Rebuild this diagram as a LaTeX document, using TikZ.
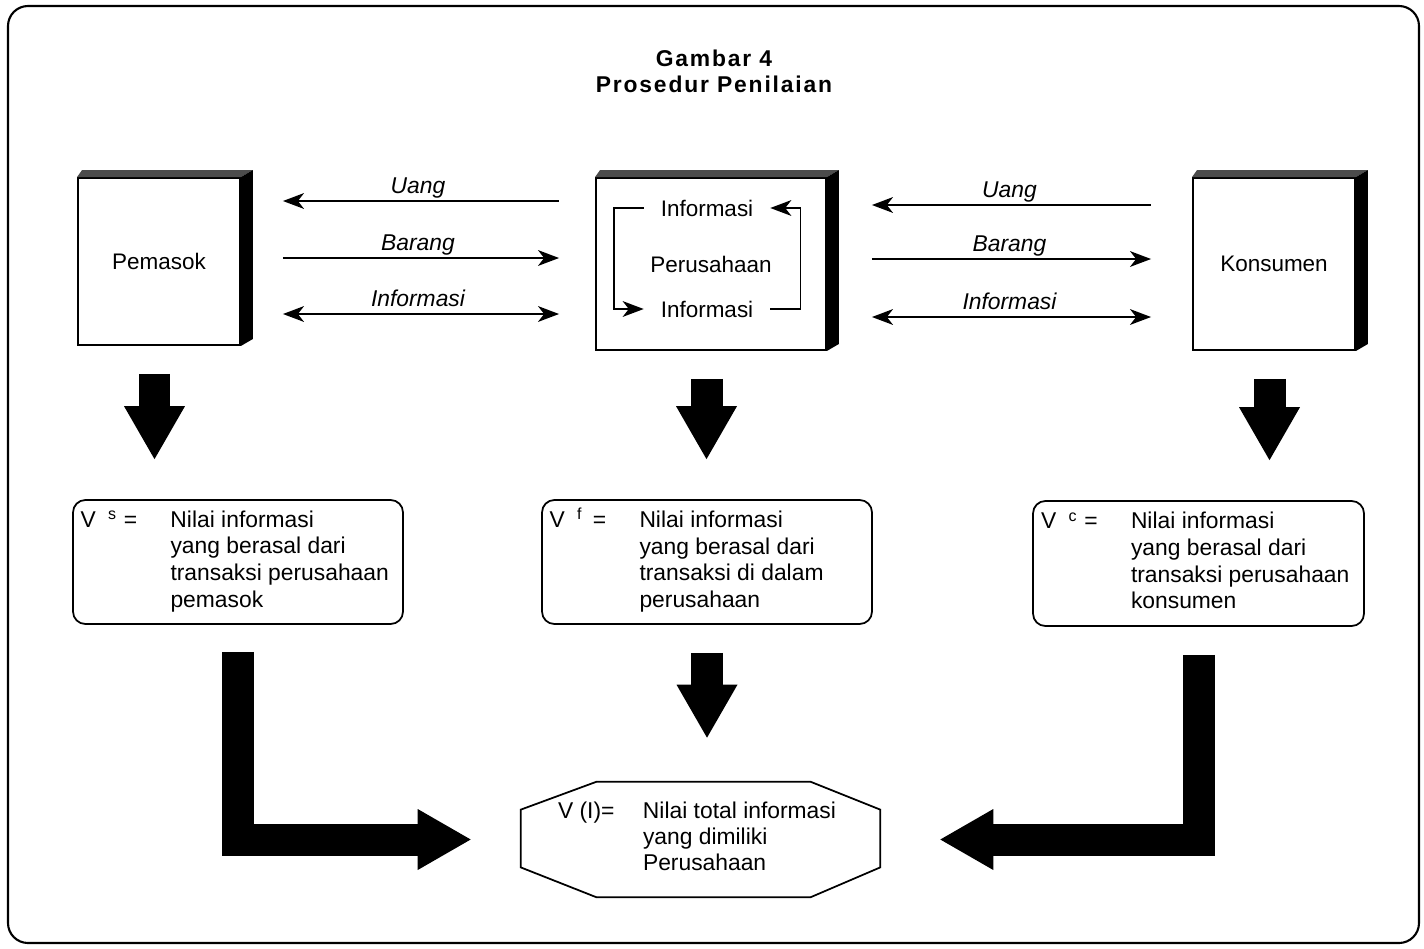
\documentclass[tikz,border=0pt]{standalone}
\usepackage{fontspec}
\setmainfont{Liberation Sans}
\newfontfamily\titlefont[LetterSpace=8]{Liberation Sans}
\usetikzlibrary{arrows.meta}

\begin{document}
\begin{tikzpicture}[x=0.02cm, y=-0.02cm, >={Stealth[length=12pt,width=9pt,inset=3.5pt]},
    box/.style={draw, line width=1.1pt, fill=white, inner sep=0pt, font=\fontsize{12.8}{15}\selectfont},
    vbox/.style={draw, line width=1pt, rounded corners=7pt, minimum width=6.6cm, minimum height=2.48cm, font=\fontsize{13}{15.2}\selectfont},
    inf/.style={inner xsep=9.5pt, inner ysep=0pt, font=\fontsize{12.8}{15}\selectfont},
    flow/.style={line width=0.9pt},
    lbl/.style={midway, anchor=base, yshift=4pt, font=\fontsize{13}{15}\selectfont\itshape},
    fat/.style={line width=0.64cm, line join=miter, -{Triangle[length=1.06cm,width=1.22cm,line width=0pt]}}]
    \useasboundingbox (0,0) rectangle (1424,948);
    \draw[line width=1.2pt, rounded corners=0.4cm] (8,6) rectangle (1419,943);

    \node[font=\titlefont\bfseries\fontsize{13}{14.8}\selectfont, align=center] (ttl) at (714,71) {Gambar 4\\Prosedur Penilaian};

    % the three parties
    \node[box, minimum width=3.24cm, minimum height=3.34cm] (pem) at (159,261.5) {Pemasok};
    \node[box, minimum width=4.6cm, minimum height=3.44cm] (per) at (711,264) {Perusahaan};
    \node[box, minimum width=3.24cm, minimum height=3.44cm] (kon) at (1274,264) {Konsumen};
    \foreach \n in {pem,per,kon} {
      \fill[black!70] (\n.north west) -- ++(5,-7) -- ([shift={(12,-7)}]\n.north east) -- (\n.north east) -- cycle;
      \fill[black] (\n.north east) -- ++(12,-7) -- ([shift={(12,-7)}]\n.south east) -- (\n.south east) -- cycle;
    }

    \node[inf] (infa) at (707,208) {Informasi};
    \node[inf] (infb) at (707,309) {Informasi};
    \draw[flow, ->] (infa.west) -- ++(-30,0) |- (infb.west);
    \draw[flow, ->] (infb.east) -- ++(30,0) |- (infa.east);

    \draw[flow, <-, shorten <=0.84cm, shorten >=0.72cm] (pem.east |- 0,201) -- (per.west |- 0,201) node[lbl] {Uang};
    \draw[flow, ->, shorten <=0.84cm, shorten >=0.72cm] (pem.east |- 0,258) -- (per.west |- 0,258) node[lbl] {Barang};
    \draw[flow, <->, shorten <=0.84cm, shorten >=0.72cm] (pem.east |- 0,314) -- (per.west |- 0,314) node[lbl] {Informasi};

    \draw[flow, <-, shorten <=0.9cm, shorten >=0.82cm] (per.east |- 0,205) -- (kon.west |- 0,205) node[lbl] {Uang};
    \draw[flow, ->, shorten <=0.9cm, shorten >=0.82cm] (per.east |- 0,259) -- (kon.west |- 0,259) node[lbl] {Barang};
    \draw[flow, <->, shorten <=0.9cm, shorten >=0.82cm] (per.east |- 0,317) -- (kon.west |- 0,317) node[lbl] {Informasi};

    % values
    \node[vbox] (vs) at (238,562) {\begin{tabular}{@{}p{1.8cm}@{}p{4.5cm}@{}}
      V\hspace{7pt}\textsuperscript{s}\hspace{4pt}= & Nilai informasi\\
      & yang berasal dari\\
      & transaksi perusahaan\\
      & pemasok
    \end{tabular}};
    \node[vbox] (vf) at (707,562) {\begin{tabular}{@{}p{1.8cm}@{}p{4.5cm}@{}}
      V\hspace{7pt}\textsuperscript{f}\hspace{6pt}= & Nilai informasi\\
      & yang berasal dari\\
      & transaksi di dalam\\
      & perusahaan
    \end{tabular}};
    \node[vbox, minimum width=6.62cm, minimum height=2.5cm] (vc) at (1198.5,563.5) {\begin{tabular}{@{}p{1.8cm}@{}p{4.5cm}@{}}
      V\hspace{7pt}\textsuperscript{c}\hspace{4pt}= & Nilai informasi\\
      & yang berasal dari\\
      & transaksi perusahaan\\
      & konsumen
    \end{tabular}};

    \node[minimum width=7.18cm, minimum height=2.3cm, inner sep=0pt, font=\fontsize{13}{14.8}\selectfont] (tot) at (700.5,839.5) {\begin{tabular}{@{}p{1.7cm}@{}p{4cm}@{}}
      V (I)= & Nilai total informasi\\
      & yang dimiliki\\
      & Perusahaan
    \end{tabular}};
    \draw[line width=1pt] ([xshift=1.52cm]tot.north west) -- ([xshift=-1.4cm]tot.north east) -- ([yshift=-0.56cm]tot.north east)
      -- ([yshift=0.6cm]tot.south east) -- ([xshift=-1.4cm]tot.south east) -- ([xshift=1.52cm]tot.south west)
      -- ([yshift=0.6cm]tot.south west) -- ([yshift=-0.56cm]tot.north west) -- cycle;

    % big arrows
    \foreach \a/\b in {pem/vs, per/vf, kon/vc}
      \draw[fat, transform canvas={xshift=-0.09cm}, shorten <=0.56cm, shorten >=0.8cm] (\a.south) -- (\a.south |- \b.north);
    \draw[fat, shorten <=0.56cm, shorten >=0.88cm] (vf.south) -- (vf.south |- tot.north);
    \draw[fat, shorten <=0.54cm, shorten >=1.0cm] (vs.south) |- (tot.west);
    \draw[fat, shorten <=0.56cm, shorten >=1.2cm] (vc.south) |- (tot.east);
\end{tikzpicture}
\end{document}
